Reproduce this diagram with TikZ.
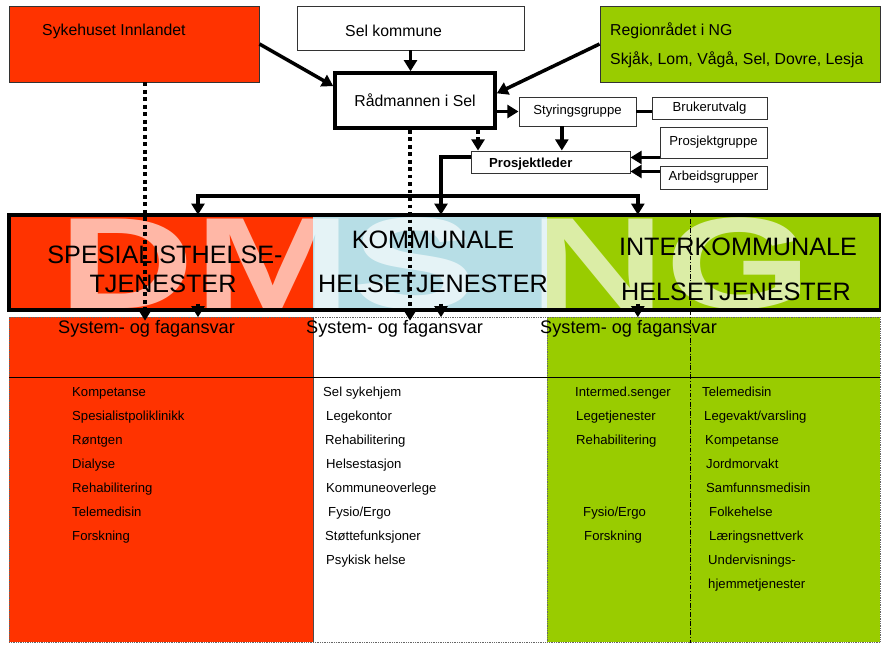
\documentclass[tikz,border=0pt]{standalone}
\usepackage{fontspec}
\setmainfont{Liberation Sans}
\usetikzlibrary{arrows.meta}

\begin{document}
\begin{tikzpicture}[x=0.03cm,y=-0.03cm,>={Triangle[length=9.5pt,width=11pt]}]
  % Colors
  \definecolor{shred}{RGB}{255,51,0}
  \definecolor{komblue}{RGB}{183,222,230}
  \definecolor{ikgreen}{RGB}{153,204,0}

  % Styles
  \tikzstyle{box}=[draw=black!80,line width=0.8pt,inner sep=0pt,font=\fontsize{13.5}{16}\selectfont]
  \tikzstyle{small box}=[draw=black!80,line width=0.8pt,inner sep=0pt,font=\fontsize{11.2}{13}\selectfont]
  \tikzstyle{box text}=[anchor=base west,inner sep=0pt,font=\fontsize{13.5}{16}\selectfont]
  \tikzstyle{connector}=[line width=3pt]
  \tikzstyle{dotted connector}=[line width=3.2pt,dash pattern=on 3.2pt off 3.2pt]
  \tikzstyle{band}=[inner sep=0pt,minimum height=2.85cm]
  \tikzstyle{band text}=[anchor=base,inner sep=0pt,font=\fontsize{21.5}{24}\selectfont]
  \tikzstyle{duty row}=[draw=black!60,densely dotted,line width=0.5pt,inner sep=0pt,minimum height=9.75cm]
  \tikzstyle{duty text}=[anchor=base west,inner sep=0pt,font=\fontsize{15.5}{18}\selectfont]
  \tikzstyle{list text}=[anchor=base west,inner sep=0pt,font=\fontsize{11.2}{13}\selectfont]

  \useasboundingbox (0,0) rectangle (881,644);

  % The owners
  \node[box,fill=shred,minimum width=7.5cm,minimum height=2.28cm] (syk) at (134,44) {};
  \node[box text] (syk-title) at (42,35) {Sykehuset Innlandet};

  \node[box,minimum width=6.81cm,minimum height=1.32cm] (sel) at (410.5,28) {};
  \node[box text] (sel-title) at (345,36) {Sel kommune};

  \node[box,fill=ikgreen,minimum width=8.4cm,minimum height=2.28cm] (reg) at (740,44) {};
  \node[box text] (reg-title) at (610,35) {Regionrådet i NG};
  \node[box text] (reg-list) at (610,64) {Skjåk, Lom, Vågå, Sel, Dovre, Lesja};

  \node[box,draw=black,line width=3pt,minimum width=4.8cm,minimum height=1.65cm] (rad) at (415,100.5) {Rådmannen i Sel};

  % The project
  \node[small box,minimum width=3.51cm,minimum height=0.87cm] (sty) at (577.5,111.5) {Styringsgruppe};
  \node[small box,minimum width=3.45cm,minimum height=0.66cm] (bru) at (709.5,108) {Brukerutvalg};
  \node[small box,minimum width=3.21cm,minimum height=0.93cm] (pgr) at (713.5,142.5) {Prosjektgruppe};
  \node[small box,minimum width=4.77cm,minimum height=0.66cm] (pl) at (550.5,162) {};
  \node[list text,font=\fontsize{11.2}{13}\selectfont\bfseries] (pl-title) at (489,167) {Prosjektleder};
  \node[small box,minimum width=3.21cm,minimum height=0.69cm] (arb) at (713.5,177.5) {Arbeidsgrupper};

  % The services
  \node[band,fill=shred,minimum width=9.12cm] (spes) at (161,262.5) {};
  \node[band,fill=komblue,minimum width=7.02cm] (komm) at (430,262.5) {};
  \node[band,fill=ikgreen,minimum width=9.99cm] (inter) at (713.5,262.5) {};

  \node[anchor=base west,inner sep=0pt,text=white,opacity=0.65,xscale=1.45,
        font=\fontsize{111}{111}\selectfont\bfseries] (dmsng) at (58,308) {DMS NG};

  \draw[line width=3pt] (spes.north west) rectangle (inter.south east);

  \node[band text] (spes-l1) at (165,263) {SPESIALISTHELSE-};
  \node[band text] (spes-l2) at (163,292) {TJENESTER};
  \node[band text] (komm-l1) at (433,248) {KOMMUNALE};
  \node[band text] (komm-l2) at (433,292) {HELSETJENESTER};
  \node[band text] (inter-l1) at (738,255) {INTERKOMMUNALE};
  \node[band text] (inter-l2) at (736,300) {HELSETJENESTER};

  \node[duty row,fill=shred,minimum width=9.12cm] (spesrow) at (161,479.5) {};
  \node[duty row,fill=white,minimum width=7.02cm] (kommrow) at (430,479.5) {};
  \node[duty row,fill=ikgreen,minimum width=9.99cm] (interrow) at (713.5,479.5) {};
  \draw[black!70,line width=0.6pt] (spesrow.north east) -- (spesrow.south east);
  \draw[line width=0.6pt] (9,377) -- (880,377);

  \node[duty text] (spes-duty) at (58,333) {System- og fagansvar};
  \node[duty text] (komm-duty) at (306,333) {System- og fagansvar};
  \node[duty text] (inter-duty) at (540,333) {System- og fagansvar};

  \foreach \y/\item in {0/Kompetanse, 1/Spesialistpoliklinikk, 2/Røntgen,
      3/Dialyse, 4/Rehabilitering, 5/Telemedisin, 6/Forskning}
    \node[list text] (spes-item-\y) at (72,{396+24*\y}) {\item};

  \foreach \y/\x/\item in {0/323/Sel sykehjem, 1/326/Legekontor, 2/325/Rehabilitering,
      3/326/Helsestasjon, 4/326/Kommuneoverlege, 5/328/Fysio\slash Ergo,
      6/325/Støttefunksjoner, 7/326/Psykisk helse}
    \node[list text] (komm-item-\y) at (\x,{396+24*\y}) {\item};

  \foreach \y/\x/\item in {0/575/Intermed.senger, 1/576/Legetjenester,
      2/576/Rehabilitering, 5/583/Fysio\slash Ergo, 6/584/Forskning}
    \node[list text] (inter-item-\y) at (\x,{396+24*\y}) {\item};

  \foreach \y/\x/\item in {0/702/Telemedisin, 1/704/Legevakt\slash varsling,
      2/705/Kompetanse, 3/706/Jordmorvakt, 4/706/Samfunnsmedisin, 5/709/Folkehelse,
      6/709/Læringsnettverk, 7/708/Undervisnings-, 8/708/hjemmetjenester}
    \node[list text] (region-item-\y) at (\x,{396+24*\y}) {\item};

  \draw[line width=0.6pt,dash pattern=on 4pt off 1.5pt on 0.8pt off 1.5pt] (690,210) -- (690,643);

  % Connectors
  \draw[connector,->] (syk.east) -- (rad.170);
  \draw[connector,->] (sel.south) -- (sel.south |- rad.north);
  \draw[connector,->] (reg.west) -- (rad.5);
  \draw[connector,->] (rad.east |- sty.west) -- (sty.west);
  \draw[connector] (sty.east) -- (sty.east -| bru.west);

  \coordinate (sty-out) at ([xshift=-0.47cm]sty.south);
  \draw[connector,->] (sty-out) -- (sty-out |- pl.north);
  \coordinate (rad-out) at ([xshift=1.89cm]rad.south);
  \draw[dotted connector,->] (rad-out) -- (rad-out |- pl.north);
  \coordinate (pgr-out) at ([yshift=0.03cm]pgr.south west);
  \draw[connector,->] (pgr-out) -- (pgr-out -| pl.east);
  \coordinate (pl-in) at ([yshift=0.06cm]pl.south east);
  \draw[connector,<-] (pl-in) -- (pl-in -| arb.west);

  \coordinate (pl-out) at ([yshift=0.15cm]pl.west);
  \coordinate (komm-in) at ([xshift=0.33cm]komm.north);
  \draw[connector,->] (pl-out) -| (komm-in);
  \coordinate (spes-in) at ([xshift=1.11cm]spes.north);
  \coordinate (inter-in) at ([xshift=-2.27cm]inter.north);
  \draw[connector,<->] (spes-in) -- ++(0,-19) -| (inter-in);

  \foreach \n/\dx in {spes/1.11, komm/0.33, inter/-2.27}
    \draw[connector,->] ([xshift=\dx cm,yshift=0.2cm]\n.south) -- ([xshift=\dx cm,yshift=-0.21cm]\n.south);

  \coordinate (syk-out) at ([xshift=0.33cm]syk.south);
  \coordinate (syk-end) at (syk-out |- spesrow.north);
  \draw[dotted connector,->] (syk-out) -- ([yshift=-0.12cm]syk-end);
  \coordinate (rad-down) at ([xshift=-0.15cm]rad.south);
  \coordinate (rad-end) at (rad-down |- kommrow.north);
  \draw[dotted connector,->] (rad-down) -- ([yshift=-0.12cm]rad-end);
\end{tikzpicture}
\end{document}
